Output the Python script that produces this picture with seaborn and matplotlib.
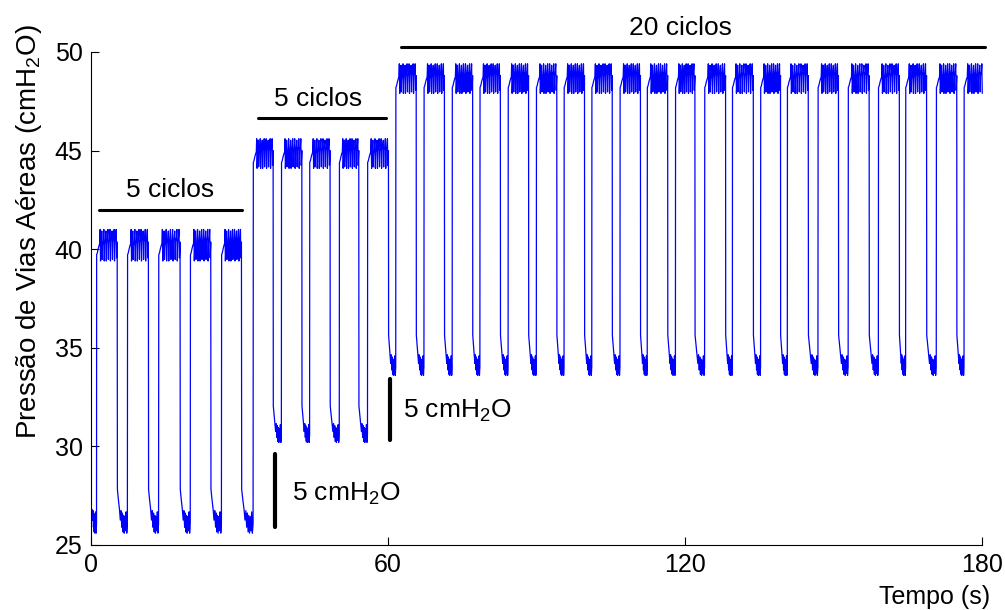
import numpy as np
import pandas as pd
import matplotlib
matplotlib.use("Agg")
import matplotlib.pyplot as plt
import seaborn as sns

# cycle timing (s)
rise_t = [1.15, 7.4, 13.7, 20.1, 26.4,
          32.8, 38.5, 44.2, 50.2, 55.9,
          61.6, 67.3, 73.0, 78.6, 84.3, 90.0, 95.6, 101.2, 106.9, 112.4, 118.1,
          124.0, 129.6, 135.3, 140.7, 146.9, 153.0, 159.1, 164.6, 170.8, 176.4]
fall_t = [5.3, 11.6, 18.0, 24.2, 30.4,
          36.8, 42.6, 48.3, 54.1, 60.1,
          65.7, 71.4, 77.1, 82.7, 88.4, 94.1, 99.7, 105.3, 111.0, 116.5, 122.0,
          128.2, 133.8, 139.3, 144.9, 151.0, 157.2, 163.3, 168.8, 174.9, 180.6]
trace_end = 182.0

# pressure bands per PEEP step (cmH2O)
seg_cycles = [5, 5, 21]
hi_top = [41.0, 45.6, 49.4]
hi_bot = [39.4, 44.1, 47.9]
lo_top = [26.8, 31.2, 34.7]
lo_bot = [25.6, 30.2, 33.6]
# which step's trough level follows each fall
low_seg = [0] * 5 + [1] * 4 + [2] * 22

# shape of one plateau (fraction of plateau time, fraction of band)
plateau_u = [0.00, 0.03, 0.08, 0.12, 0.15, 0.17, 0.19, 0.22, 0.25, 0.27, 0.29,
             0.32, 0.35, 0.37, 0.39, 0.42, 0.45, 0.47, 0.49, 0.52, 0.55, 0.57,
             0.59, 0.62, 0.65, 0.67, 0.69, 0.72, 0.75, 0.77, 0.79, 0.82, 0.85,
             0.87, 0.89, 0.92, 0.95, 0.97, 1.00]
plateau_f = [0.20, 0.25, 0.40, 0.50, 0.55, 1.00, 0.00, 0.55, 0.95, 0.05, 0.50,
             0.60, 1.00, 0.00, 0.55, 0.65, 0.95, 0.00, 0.60, 0.70, 1.00, 0.05,
             0.60, 0.65, 1.00, 0.00, 0.65, 0.70, 0.95, 0.05, 0.70, 0.65, 1.00,
             0.00, 0.60, 0.70, 1.00, 0.10, 0.60]
# shape of one trough (fraction of trough time, fraction of band)
trough_v = [0.02, 0.12, 0.22, 0.30, 0.37, 0.44, 0.50, 0.56, 0.62, 0.68,
            0.74, 0.80, 0.86, 0.92, 0.98]
trough_f = [1.85, 1.40, 1.00, 0.55, 0.95, 0.25, 0.85, 0.05, 0.75, 0.00,
            0.70, 0.10, 0.90, 0.00, 0.40]

# build the trace
seg_of = np.repeat(np.arange(3), seg_cycles)
t_all, p_all = [], []

# trace starts in a trough
for v, f in zip(trough_v, trough_f):
    if f <= 1.0:
        t_all.append(v * rise_t[0])
        p_all.append(lo_bot[0] + f * (lo_top[0] - lo_bot[0]))

for i in range(len(rise_t)):
    s = seg_of[i]
    t0, t1 = rise_t[i], fall_t[i]
    for u, f in zip(plateau_u, plateau_f):
        t_all.append(t0 + u * (t1 - t0))
        p_all.append(hi_bot[s] + f * (hi_top[s] - hi_bot[s]))
    k = low_seg[i]
    t2 = rise_t[i + 1] if i + 1 < len(rise_t) else trace_end
    for v, f in zip(trough_v, trough_f):
        t_all.append(t1 + v * (t2 - t1))
        p_all.append(lo_bot[k] + f * (lo_top[k] - lo_bot[k]))

df = pd.DataFrame({"Tempo": t_all, "Pressao": p_all})

sns.set_style("ticks")
plt.rcParams["font.family"] = ["Liberation Sans", "DejaVu Sans"]
plt.rcParams["mathtext.fontset"] = "custom"
plt.rcParams["mathtext.rm"] = "Liberation Sans"
plt.rcParams["mathtext.it"] = "Liberation Sans"
plt.rcParams["text.color"] = "black"
plt.rcParams["axes.labelcolor"] = "black"

fig = plt.figure(figsize=(10.05, 6.10), dpi=100)
ax = fig.add_axes([0.0905, 0.1066, 0.8866, 0.8082])

sns.lineplot(data=df, x="Tempo", y="Pressao", ax=ax, color="#0000FF",
             linewidth=0.9, sort=False, estimator=None)
ax.lines[0].set_clip_on(False)

ax.set_xlim(0, 180)
ax.set_ylim(25, 50)
ax.set_xticks([0, 60, 120, 180])
ax.set_yticks([25, 30, 35, 40, 45, 50])
ax.tick_params(direction="in", length=6, width=0.8, labelsize=18, pad=6,
               colors="black", bottom=True, left=True)
sns.despine(ax=ax)
for sp in ["left", "bottom"]:
    ax.spines[sp].set_linewidth(0.8)
    ax.spines[sp].set_color("black")

ax.set_xlabel("Tempo (s)", fontsize=18, ha="right", va="center")
ax.xaxis.set_label_coords(1.009, -0.1055)
ax.set_ylabel("Pressão de Vias Aéreas (cmH$_2$O)", fontsize=20, va="center")
ax.yaxis.set_label_coords(-0.069, 0.635)

# cycle brackets
brackets = [(1.6, 30.5, 42.0, 16.0, 43.0, "5 ciclos"),
            (33.7, 59.6, 46.65, 45.9, 47.6, "5 ciclos"),
            (62.6, 180.6, 50.25, 119.0, 51.2, "20 ciclos")]
for x0, x1, yb, xt, yt, lab in brackets:
    ax.plot([x0, x1], [yb, yb], color="black", linewidth=2.2, clip_on=False)
    ax.text(xt, yt, lab, fontsize=19, ha="center", va="center")

# 5 cmH2O scale marks
ax.plot([37.2, 37.2], [25.9, 29.6], color="black", linewidth=3,
        solid_capstyle="round", clip_on=False)
ax.text(40.6, 27.6, "5 cmH$_2$O", fontsize=19, ha="left", va="center")
ax.plot([60.5, 60.5], [30.3, 33.4], color="black", linewidth=3,
        solid_capstyle="round", clip_on=False)
ax.text(63.0, 31.8, "5 cmH$_2$O", fontsize=19, ha="left", va="center")

fig.savefig("out.png", dpi=100)
